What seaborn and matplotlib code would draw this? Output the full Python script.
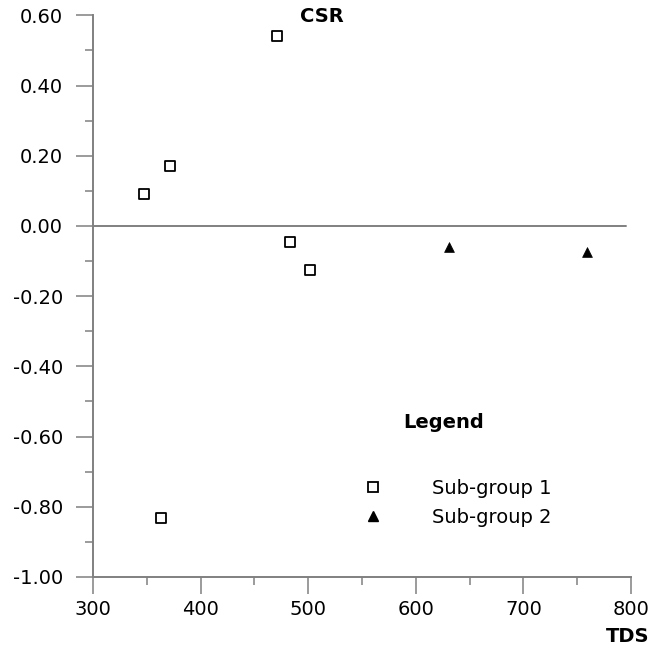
import matplotlib
matplotlib.use("Agg")
import matplotlib.pyplot as plt
import seaborn as sns
import pandas as pd
from matplotlib.lines import Line2D
from matplotlib.ticker import MultipleLocator

sns.set_style("white")
plt.rcParams['font.family'] = ['DejaVu Sans']
plt.rcParams['text.color'] = 'black'
plt.rcParams['xtick.labelcolor'] = 'black'
plt.rcParams['ytick.labelcolor'] = 'black'

# Data
g1_tds = [347, 372, 471, 483, 502, 363]
g1_csr = [0.09, 0.17, 0.54, -0.045, -0.125, -0.832]
g2_tds = [631, 759]
g2_csr = [-0.059, -0.075]
labels = ["Sub-group 1", "Sub-group 2"]
x_ticks = [300, 400, 500, 600, 700, 800]
y_ticks = [0.60, 0.40, 0.20, 0.00, -0.20, -0.40, -0.60, -0.80, -1.00]

df1 = pd.DataFrame({"TDS": g1_tds, "CSR": g1_csr})
df2 = pd.DataFrame({"TDS": g2_tds, "CSR": g2_csr})

fig = plt.figure(figsize=(6.54, 6.48), dpi=100)
ax = fig.add_axes([93/654, 1-577/648, (631-93)/654, (577-15.3)/648])

gray = "#808080"
FS = 14
ax.axhline(0, xmin=0, xmax=(626-93)/(631-93), color=gray, lw=1.4, zorder=1)

sns.scatterplot(data=df1, x="TDS", y="CSR", marker="s", s=55, facecolor="white",
                edgecolor="black", linewidth=1.3, ax=ax, zorder=3, legend=False)
sns.scatterplot(data=df2, x="TDS", y="CSR", marker="^", s=50, color="black",
                edgecolor="black", linewidth=0.5, ax=ax, zorder=3, legend=False)

ax.set_xlim(300, 800)
ax.set_ylim(-1.0, 0.6)
ax.set_xticks(x_ticks)
ax.set_xticklabels([str(v) for v in x_ticks])
ax.set_yticks(y_ticks)
ax.set_yticklabels([f"{v:.2f}" for v in y_ticks])
ax.xaxis.set_minor_locator(MultipleLocator(50))
ax.yaxis.set_minor_locator(MultipleLocator(0.1))
ax.tick_params(axis="both", which="major", direction="out", length=12.5, width=1.1,
               color=gray, labelcolor="black", labelsize=FS, bottom=True, left=True)
ax.tick_params(axis="y", which="major", pad=9)
ax.tick_params(axis="x", which="major", pad=4)
ax.tick_params(axis="both", which="minor", direction="out", length=6, width=1.1,
               color=gray, bottom=True, left=True)
for side in ["top", "right"]:
    ax.spines[side].set_visible(False)
for side in ["left", "bottom"]:
    ax.spines[side].set_color(gray)
    ax.spines[side].set_linewidth(1.4)
ax.set_xlabel("")
ax.set_ylabel("")

fig.text(300/654, 1-16/648, "CSR", fontsize=FS, fontweight="bold", color="black",
         ha="left", va="center")
fig.text(649/654, 1-636/648, "TDS", fontsize=FS, fontweight="bold", color="black",
         ha="right", va="center")
fig.text(403/654, 1-422/648, "Legend", fontsize=FS, fontweight="bold", color="black",
         ha="left", va="center")

handles = [
    Line2D([], [], marker="s", linestyle="none", markersize=7.2, markerfacecolor="white",
           markeredgecolor="black", markeredgewidth=1.3),
    Line2D([], [], marker="^", linestyle="none", markersize=7, markerfacecolor="black",
           markeredgecolor="black"),
]
leg = ax.legend(handles, labels, frameon=False, fontsize=FS, handlelength=1.0,
                handletextpad=2.54, labelspacing=0.5, borderpad=0, borderaxespad=0,
                loc="upper left", bbox_to_anchor=(363.3/654, 1-479/648),
                bbox_transform=fig.transFigure, labelcolor="black")

fig.savefig("out.png", dpi=100)
